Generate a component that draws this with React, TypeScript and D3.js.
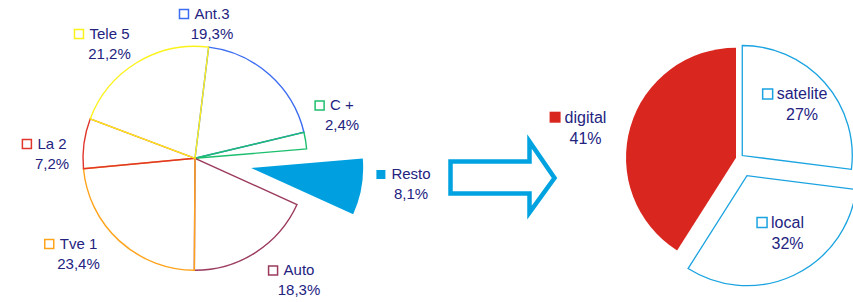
import React from "react";
import * as d3 from "d3";

const channels = ["Ant.3", "C +", "Resto", "Auto", "Tve 1", "La 2", "Tele 5"];
const shares = [19.3, 2.4, 8.1, 18.3, 23.4, 7.2, 21.2];
const shareLabels = ["19,3%", "2,4%", "8,1%", "18,3%", "23,4%", "7,2%", "21,2%"];

const types = ["satelite", "local", "digital"];
const typeShares = [27, 32, 41];
const typeLabels = ["27%", "32%", "41%"];

// styles / layout
const channelColors = ["#3b6cf2", "#1dbf6e", "#00a0e0", "#9b3a5e", "#ffa31a", "#e0352b", "#fbf21a"];
const channelFilled = [false, false, true, false, false, false, false];
const channelExplode = [0, 0, 57, 0, 0, 0, 0];
const channelLabelPos: [number, number][] = [
  [212, 18.5], [342, 110], [411, 179], [299, 275], [78.5, 248.5], [52, 148.5], [109.5, 38.5],
];
const typeFill = ["#ffffff", "#ffffff", "#d9261f"];
const typeStroke = ["#1aa3e0", "#1aa3e0", "#d9261f"];
const typeFilled = [false, false, true];
const typeExplode = [4.5, 19, 3];
const typeLabelPos: [number, number][] = [[802, 99], [787.5, 227.5], [585.5, 122.7]];

const TEXT = "#23237f";
const FONT = "'Liberation Sans', Arial, sans-serif";
const deg = Math.PI / 180;

function Label({ x, y, name, pct, color, filled, size, sq, gap, lh }: any) {
  const w = name.length; // not used for layout
  return (
    <g>
      <text x={x} y={y} textAnchor="middle" fontSize={size} fontFamily={FONT} fill={TEXT}
        ref={(el) => {
          if (el) {
            const bb = el.getBBox();
            const r = el.parentNode!.querySelector("rect") as SVGRectElement;
            r.setAttribute("x", String(bb.x - gap - sq));
          }
        }}>{name}</text>
      <rect x={x - 40} y={y - sq} width={sq} height={sq}
        fill={filled ? color : "#ffffff"} stroke={color} strokeWidth={filled ? 0 : 1.5}
        {...(filled ? {} : { x: x - 40 })} />
      <text x={x} y={y + lh} textAnchor="middle" fontSize={size} fontFamily={FONT} fill={TEXT}>{pct}</text>
    </g>
  );
}

export default function App() {
  const c1 = [195, 158.3];
  const r1 = 112;
  const pie1 = d3.pie<number>().sort(null).value((d) => d)
    .startAngle(7 * deg).endAngle(7 * deg + 2 * Math.PI)(shares);
  const arc1 = d3.arc<d3.PieArcDatum<number>>().innerRadius(0).outerRadius(r1);

  const c2 = [738.9, 158.5];
  const r2 = 110;
  const pie2 = d3.pie<number>().sort(null).value((d) => d)
    .startAngle(0).endAngle(2 * Math.PI)(typeShares);
  const arc2 = d3.arc<d3.PieArcDatum<number>>().innerRadius(0).outerRadius(r2);

  const off = (a: d3.PieArcDatum<number>, d: number) => {
    const m = (a.startAngle + a.endAngle) / 2;
    return [Math.sin(m) * d, -Math.cos(m) * d];
  };

  // arrow geometry
  const ax0 = 450.5, ax1 = 529.5, ay0 = 161.5, ay1 = 193.5, hy0 = 141.5, hy1 = 212.5, tipX = 554.5;
  const ym = (ay0 + ay1) / 2 + 0.5;
  const arrow = d3.line()([
    [ax0, ay0], [ax1, ay0], [ax1, hy0], [tipX, ym], [ax1, hy1], [ax1, ay1], [ax0, ay1],
  ]) + "Z";

  return (
    <svg width={853} height={302} style={{ position: "absolute", left: 0, top: 0, background: "#fff" }}>
      <g transform={`translate(${c1[0]},${c1[1]})`}>
        {pie1.map((a, i) => {
          const [dx, dy] = off(a, channelExplode[i]);
          return (
            <path key={i} d={arc1(a)!} transform={`translate(${dx},${dy})`}
              fill={channelFilled[i] ? channelColors[i] : "#ffffff"}
              fillOpacity={channelFilled[i] ? 1 : 0}
              stroke={channelFilled[i] ? "none" : channelColors[i]} strokeWidth={1.4}
              strokeLinejoin="miter" />
          );
        })}
      </g>
      {channels.map((n, i) => (
        <Label key={n} x={channelLabelPos[i][0]} y={channelLabelPos[i][1]} name={n} pct={shareLabels[i]}
          color={channelColors[i]} filled={channelFilled[i]} size={15} sq={9} gap={6} lh={20} />
      ))}

      <path d={arrow} fill="none" stroke="#00a3e0" strokeWidth={4.5} strokeLinejoin="miter" />

      <g transform={`translate(${c2[0]},${c2[1]})`}>
        {pie2.map((a, i) => {
          const [dx, dy] = off(a, typeExplode[i]);
          return (
            <path key={i} d={arc2(a)!} transform={`translate(${dx},${dy})`}
              fill={typeFill[i]} stroke={typeFilled[i] ? "none" : typeStroke[i]} strokeWidth={1.3} />
          );
        })}
      </g>
      {types.map((n, i) => (
        <Label key={n} x={typeLabelPos[i][0]} y={typeLabelPos[i][1]} name={n} pct={typeLabels[i]}
          color={typeStroke[i]} filled={typeFilled[i]} size={16} sq={typeFilled[i] ? 11 : 10} gap={4} lh={21} />
      ))}
    </svg>
  );
}
